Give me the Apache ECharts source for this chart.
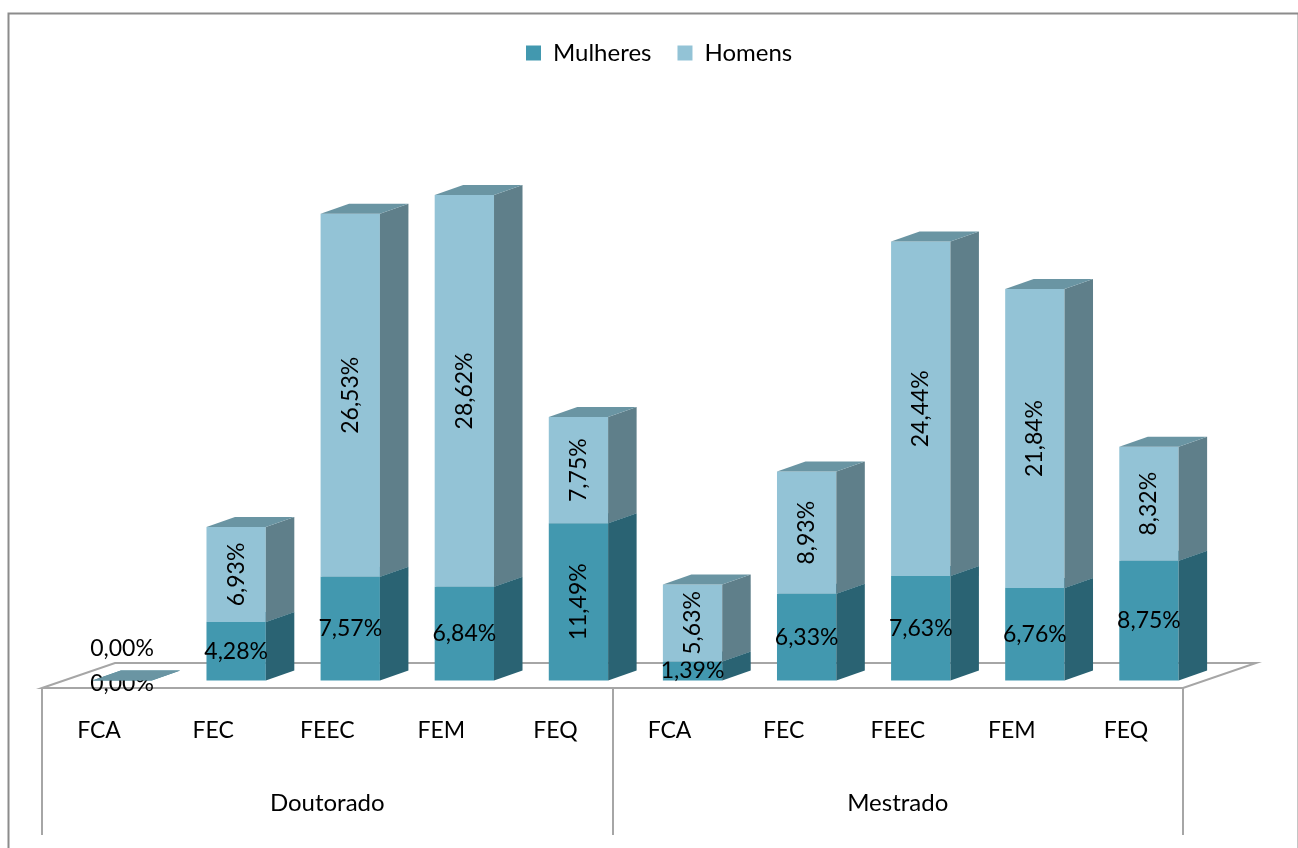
<!DOCTYPE html>
<html>
<head>
<meta charset="utf-8">
<title>Doutorado / Mestrado</title>
<script src="https://cdn.jsdelivr.net/npm/echarts@6/dist/echarts.min.js"></script>
<style>
  html, body { margin: 0; padding: 0; background: #fff; }
  #main { width: 1298px; height: 848px; }
</style>
</head>
<body>
<div id="main"></div>
<script>
// dados
var categorias = ['FCA', 'FEC', 'FEEC', 'FEM', 'FEQ', 'FCA', 'FEC', 'FEEC', 'FEM', 'FEQ'];
var grupos = ['Doutorado', 'Mestrado'];
var mulheres = [0.00, 4.28, 7.57, 6.84, 11.49, 1.39, 6.33, 7.63, 6.76, 8.75];
var homens = [0.00, 6.93, 26.53, 28.62, 7.75, 5.63, 8.93, 24.44, 21.84, 8.32];

var FONTE = 'Lato';
var DX = 28.5, DY = -10;        // profundidade da barra
var OFX = 23, OFY = -7.5;       // deslocamento da barra sobre o piso
var PX = 73, PY = -25;          // profundidade do piso

function fmt(v) { return v.toFixed(2).replace('.', ',') + '%'; }

// monta [indice, base, topo, valor] para cada serie empilhada
var dadosM = [], dadosH = [];
for (var i = 0; i < categorias.length; i++) {
  dadosM.push([i, 0, mulheres[i], mulheres[i]]);
  dadosH.push([i, mulheres[i], mulheres[i] + homens[i], homens[i]]);
}

function caixa(cores, homem) {
  return function (params, api) {
    var idx = api.value(0);
    var p0 = api.coord([idx, api.value(1)]);
    var p1 = api.coord([idx, api.value(2)]);
    var banda = api.size([1, 0])[0];
    var w = banda * 0.52;
    var x0 = p0[0] - w / 2 + OFX, x1 = x0 + w;
    var yb = p0[1] + OFY, yt = p1[1] + OFY;
    var v = api.value(3);
    var txt = fmt(v);
    var rot = 0, ty = (yb + yt) / 2;
    if (homem) {
      if (v === 0) { ty = yt - 32; } else { rot = Math.PI / 2; }
    } else {
      if (v === 0) { ty = yb + 3; }
      else if (txt.length > 5) { rot = Math.PI / 2; }
    }
    return {
      type: 'group',
      children: [
        { type: 'rect', shape: { x: x0, y: yt, width: w, height: yb - yt }, style: { fill: cores[0] } },
        { type: 'polygon', shape: { points: [[x1, yt], [x1 + DX, yt + DY], [x1 + DX, yb + DY], [x1, yb]] }, style: { fill: cores[1] } },
        { type: 'polygon', shape: { points: [[x0, yt], [x0 + DX, yt + DY], [x1 + DX, yt + DY], [x1, yt]] }, style: { fill: cores[2] } },
        { type: 'text', x: (x0 + x1) / 2, y: ty, rotation: rot, z2: 10,
          style: { text: txt, fill: '#000', font: '23px ' + FONTE, align: 'center', verticalAlign: 'middle' } }
      ]
    };
  };
}

var myChart = echarts.init(document.getElementById('main'));
var option = {
  backgroundColor: '#fff',
  animation: false,
  graphic: [{
    type: 'rect', left: 6, top: 11, z: -10,
    shape: { width: 1290, height: 900 },
    style: { fill: 'none', stroke: '#8c8c8c', lineWidth: 2 }
  }],
  legend: {
    top: 36,
    left: 521,
    itemWidth: 15,
    itemHeight: 15,
    itemGap: 26,
    icon: 'rect',
    textStyle: { fontFamily: FONTE, fontSize: 24, color: '#000', padding: [0, 0, 0, 7] },
    data: ['Mulheres', 'Homens']
  },
  grid: { left: 42, right: 115, top: 140.4, bottom: 160 },
  xAxis: [{
    type: 'category',
    data: categorias,
    axisLine: { show: false },
    axisTick: { show: false },
    axisLabel: { interval: 0, margin: 31, fontFamily: FONTE, fontSize: 23, color: '#000' }
  }, {
    type: 'category',
    data: grupos,
    position: 'bottom',
    axisLine: { show: false },
    axisTick: { show: true, length: 147, lineStyle: { color: '#a6a6a6', width: 2 } },
    axisLabel: { margin: 103, fontFamily: FONTE, fontSize: 24, color: '#000' }
  }],
  yAxis: {
    type: 'value', min: 0, max: 40,
    show: false,
    splitLine: { show: false }
  },
  series: [{
    name: 'piso',
    type: 'custom',
    silent: true,
    z: 1,
    data: [[0]],
    renderItem: function (params, api) {
      var banda = api.size([1, 0])[0];
      var a = api.coord([0, 0]);
      var b = api.coord([categorias.length - 1, 0]);
      var l = a[0] - banda / 2, r = b[0] + banda / 2, y = a[1];
      return {
        type: 'polygon',
        shape: { points: [[l, y], [l + PX, y + PY], [r + PX, y + PY], [r, y]] },
        style: { fill: '#fff', stroke: '#a6a6a6', lineWidth: 2 }
      };
    }
  }, {
    name: 'Mulheres',
    type: 'custom',
    z: 2,
    itemStyle: { color: '#4298af' },
    encode: { x: 0, y: 2 },
    data: dadosM,
    renderItem: caixa(['#4298af', '#2a6373', '#3a8094'], false)
  }, {
    name: 'Homens',
    type: 'custom',
    z: 3,
    itemStyle: { color: '#93c3d6' },
    encode: { x: 0, y: 2 },
    data: dadosH,
    renderItem: caixa(['#93c3d6', '#5f7f8a', '#6a95a3'], true)
  }]
};
myChart.setOption(option);
</script>
</body>
</html>
